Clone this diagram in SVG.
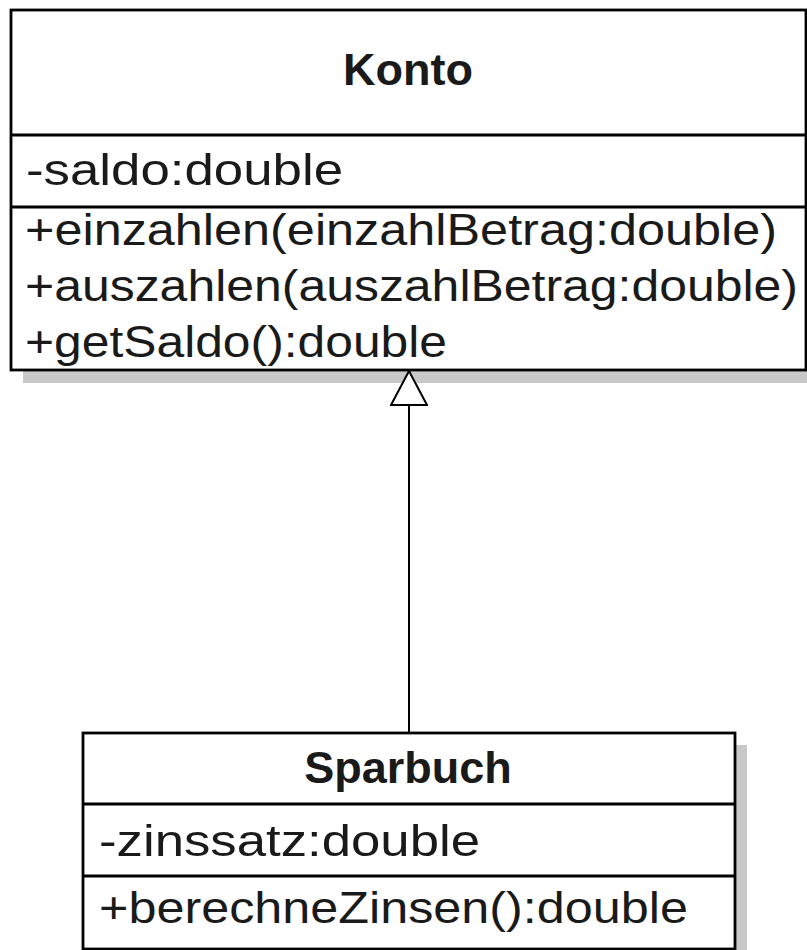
<svg xmlns="http://www.w3.org/2000/svg" width="807" height="950" viewBox="0 0 807 950">
<style>
.shadow{fill:#c8c8c8;stroke:none}
.box{fill:#ffffff;stroke:#000000;stroke-width:2.8}
.div{stroke:#000000;stroke-width:2.8}
.title{font-family:"Liberation Sans",Arial,sans-serif;font-weight:bold;font-size:45px;fill:#1a1a1a;text-anchor:middle}
.member{font-family:"Liberation Sans",Arial,sans-serif;font-size:44px;fill:#1a1a1a}
.edge{stroke:#000000;stroke-width:2;fill:none}
</style>
<defs>
<marker id="gen" markerUnits="userSpaceOnUse" viewBox="0 0 36 38" refX="35" refY="19" markerWidth="36" markerHeight="38" orient="auto">
<path d="M1,1 L35,19 L1,37 Z" fill="#ffffff" stroke="#000000" stroke-width="2"/>
</marker>
</defs>
<rect width="807" height="950" fill="#ffffff"/>
<g id="Konto">
<rect class="shadow" x="23" y="22" width="795" height="361"/>
<rect class="box" x="11" y="10" width="795" height="360"/>
<line class="div" x1="11" y1="135" x2="806" y2="135"/>
<line class="div" x1="11" y1="207" x2="806" y2="207"/>
<text class="title" x="408" y="85">Konto</text>
<text class="member" x="26" y="185" textLength="317" lengthAdjust="spacingAndGlyphs">-saldo:double</text>
<text class="member" x="25" y="245" textLength="752" lengthAdjust="spacingAndGlyphs">+einzahlen(einzahlBetrag:double)</text>
<text class="member" x="25" y="301" textLength="773" lengthAdjust="spacingAndGlyphs">+auszahlen(auszahlBetrag:double)</text>
<text class="member" x="25" y="357" textLength="422" lengthAdjust="spacingAndGlyphs">+getSaldo():double</text>
</g>
<g id="Sparbuch">
<rect class="shadow" x="95" y="745" width="652" height="216"/>
<rect class="box" x="83" y="733" width="652" height="216"/>
<line class="div" x1="83" y1="804" x2="735" y2="804"/>
<line class="div" x1="83" y1="876" x2="735" y2="876"/>
<text class="title" x="408" y="783">Sparbuch</text>
<text class="member" x="99" y="856" textLength="381" lengthAdjust="spacingAndGlyphs">-zinssatz:double</text>
<text class="member" x="99" y="923" textLength="589" lengthAdjust="spacingAndGlyphs">+berechneZinsen():double</text>
</g>
<g id="connectors">
<path class="edge" d="M409,733 L409,371" marker-end="url(#gen)"/>
</g>
</svg>
